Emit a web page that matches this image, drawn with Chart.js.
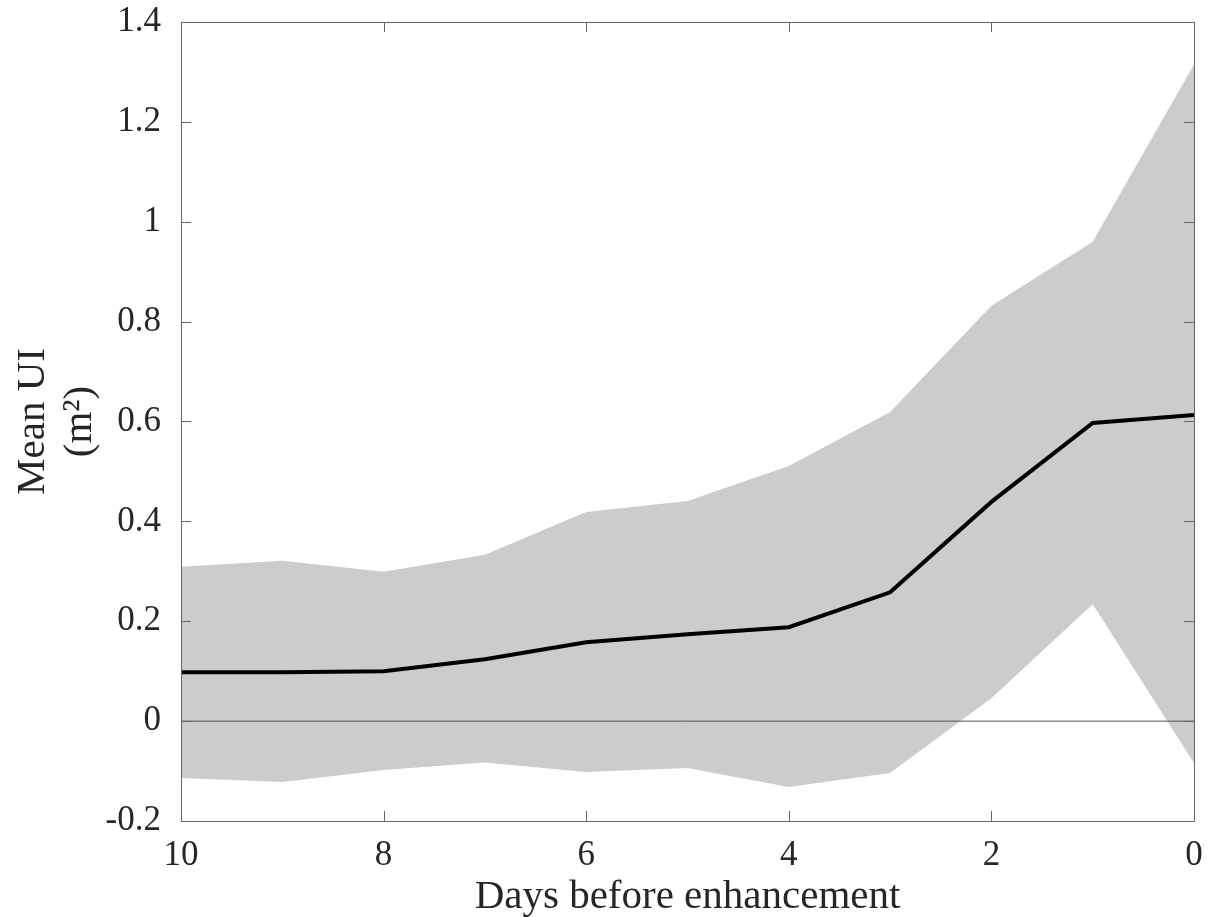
<!DOCTYPE html>
<html>
<head>
<meta charset="utf-8">
<script src="https://cdn.jsdelivr.net/npm/chart.js@4/dist/chart.umd.min.js"></script>
<style>
  html, body { margin: 0; padding: 0; background: #fff; }
  #wrap { width: 1222px; height: 917px; }
</style>
</head>
<body>
<div id="wrap"><canvas id="uiChart" width="1222" height="917"></canvas></div>
<script>
// Dias antes do evento
const days = [10, 9, 8, 7, 6, 5, 4, 3, 2, 1, 0];
const meanUI = [0.098, 0.098, 0.100, 0.124, 0.158, 0.174, 0.188, 0.258, 0.439, 0.597, 0.613];
const upperUI = [0.309, 0.321, 0.299, 0.333, 0.419, 0.441, 0.511, 0.619, 0.832, 0.960, 1.315];
const lowerUI = [-0.114, -0.122, -0.098, -0.083, -0.102, -0.094, -0.132, -0.104, 0.046, 0.234, -0.084];
const zeroLine = [0, 0];
const zeroDays = [10, 0];
const xTicks = [10, 8, 6, 4, 2, 0];
const yTicks = [-0.2, 0, 0.2, 0.4, 0.6, 0.8, 1, 1.2, 1.4];

const axisColor = '#666666';
const textColor = '#262626';
const fontFamily = '"Liberation Serif", "DejaVu Serif", serif';

function toPoints(xs, ys) {
    return xs.map((x, i) => ({ x: x, y: ys[i] }));
}

// Caixa e marcas internas (estilo MATLAB)
const boxPlugin = {
    id: 'boxTicks',
    afterDatasetsDraw(chart) {
        const { ctx, chartArea: a, scales } = chart;
        const len = 10;
        ctx.save();
        ctx.strokeStyle = axisColor;
        ctx.lineWidth = 1;
        ctx.beginPath();
        ctx.rect(a.left + 0.5, a.top + 0.5, a.right - a.left, a.bottom - a.top);
        xTicks.forEach(v => {
            const px = Math.round(scales.x.getPixelForValue(v)) + 0.5;
            ctx.moveTo(px, a.bottom); ctx.lineTo(px, a.bottom - len);
            ctx.moveTo(px, a.top); ctx.lineTo(px, a.top + len);
        });
        yTicks.forEach(v => {
            const py = Math.round(scales.y.getPixelForValue(v)) + 0.5;
            ctx.moveTo(a.left, py); ctx.lineTo(a.left + len, py);
            ctx.moveTo(a.right, py); ctx.lineTo(a.right - len, py);
        });
        ctx.stroke();
        ctx.restore();
    }
};

new Chart(document.getElementById('uiChart'), {
    type: 'line',
    data: {
        datasets: [{
            label: 'Média',
            data: toPoints(days, meanUI),
            borderColor: '#000000',
            borderWidth: 4,
            pointRadius: 0,
            fill: false,
            order: 0
        }, {
            label: 'Zero',
            data: toPoints(zeroDays, zeroLine),
            borderColor: '#555555',
            borderWidth: 1,
            pointRadius: 0,
            fill: false,
            order: 1
        }, {
            label: 'Superior',
            data: toPoints(days, upperUI),
            borderWidth: 0,
            borderColor: 'rgba(0,0,0,0)',
            backgroundColor: '#cccccc',
            pointRadius: 0,
            fill: '+1',
            order: 2
        }, {
            label: 'Inferior',
            data: toPoints(days, lowerUI),
            borderWidth: 0,
            borderColor: 'rgba(0,0,0,0)',
            pointRadius: 0,
            fill: false,
            order: 3
        }]
    },
    options: {
        responsive: false,
        animation: false,
        layout: { padding: { top: 22, right: 28, left: 0, bottom: 0 } },
        plugins: {
            legend: { display: false },
            tooltip: { enabled: false }
        },
        scales: {
            x: {
                type: 'linear',
                reverse: true,
                min: 0,
                max: 10,
                afterBuildTicks: s => { s.ticks = xTicks.map(v => ({ value: v })); },
                afterFit: s => { s.height = 96; s.paddingLeft = 0; s.paddingRight = 0; },
                grid: { display: false },
                border: { display: false },
                ticks: {
                    color: textColor,
                    font: { family: fontFamily, size: 35 },
                    padding: 6,
                    maxRotation: 0
                },
                title: {
                    display: true,
                    text: 'Days before enhancement',
                    color: textColor,
                    font: { family: fontFamily, size: 41, lineHeight: 0.95 },
                    padding: { top: 0, bottom: 0 }
                }
            },
            y: {
                min: -0.2,
                max: 1.4,
                afterBuildTicks: s => { s.ticks = yTicks.map(v => ({ value: v })); },
                afterFit: s => { s.width = 181; s.paddingTop = 0; s.paddingBottom = 0; },
                grid: { display: false },
                border: { display: false },
                ticks: {
                    color: textColor,
                    font: { family: fontFamily, size: 35 },
                    padding: 12,
                    callback: v => String(Math.round(v * 10) / 10)
                },
                title: {
                    display: true,
                    text: ['Mean UI', '(m²)'],
                    color: textColor,
                    font: { family: fontFamily, size: 41, lineHeight: 1.15 },
                    padding: { top: 10, bottom: 0 }
                }
            }
        }
    },
    plugins: [boxPlugin]
});
</script>
</body>
</html>
